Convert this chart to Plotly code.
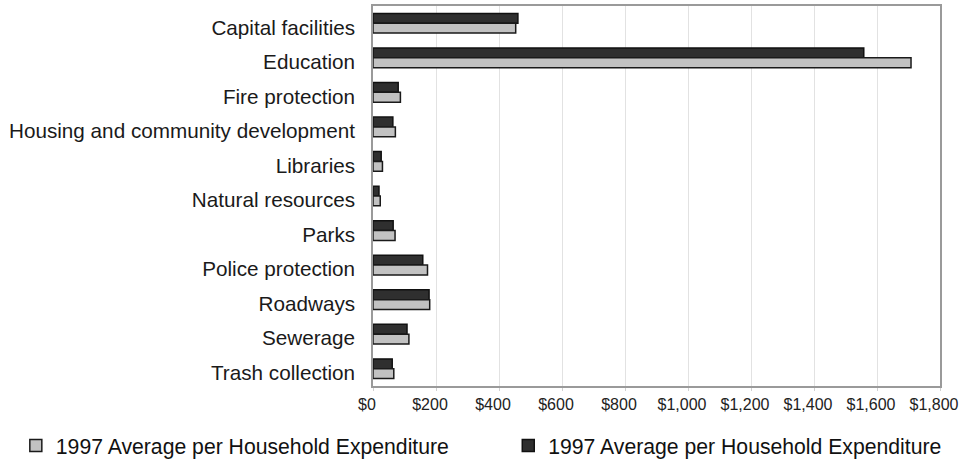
import plotly.graph_objects as go

# Municipal spending categories, listed top to bottom
categories = [
    "Capital facilities",
    "Education",
    "Fire protection",
    "Housing and community development",
    "Libraries",
    "Natural resources",
    "Parks",
    "Police protection",
    "Roadways",
    "Sewerage",
    "Trash collection",
]

# Average per-household expenditure, in dollars
dark_values = [460, 1558, 80, 63, 26, 19, 64, 158, 178, 108, 61]
light_values = [453, 1708, 87, 71, 30, 23, 70, 173, 180, 114, 66]

series_name = "1997 Average per Household Expenditure"

x_tick_values = [0, 200, 400, 600, 800, 1000, 1200, 1400, 1600, 1800]
x_tick_labels = ["$0", "$200", "$400", "$600", "$800", "$1,000",
                 "$1,200", "$1,400", "$1,600", "$1,800"]

FONT = "Liberation Sans, Arial, Helvetica, sans-serif"

fig = go.Figure()

fig.add_trace(go.Bar(
    y=categories,
    x=dark_values,
    orientation="h",
    name=series_name,
    marker=dict(color="#2f2f2f", line=dict(color="#111111", width=1.5)),
    legend="legend2",
))

fig.add_trace(go.Bar(
    y=categories,
    x=light_values,
    orientation="h",
    name=series_name,
    marker=dict(color="#c2c2c2", line=dict(color="#1a1a1a", width=1.5)),
    legend="legend",
))

legend_font = dict(size=21.2, family=FONT, color="#111111")

fig.update_layout(
    width=959,
    height=460,
    margin=dict(l=373, r=19, t=6, b=74, autoexpand=False),
    paper_bgcolor="white",
    plot_bgcolor="white",
    barmode="group",
    bargap=0.43,
    bargroupgap=0,
    font=dict(family=FONT, color="#1a1a1a"),
    showlegend=True,
    legend=dict(
        xref="container", yref="container",
        x=0.0165, y=0.031, xanchor="left", yanchor="middle",
        font=legend_font,
        bgcolor="rgba(0,0,0,0)", borderwidth=0,
    ),
    legend2=dict(
        xref="container", yref="container",
        x=0.530, y=0.031, xanchor="left", yanchor="middle",
        font=legend_font,
        bgcolor="rgba(0,0,0,0)", borderwidth=0,
    ),
)

fig.update_xaxes(
    range=[0, 1800],
    tickvals=x_tick_values,
    ticktext=x_tick_labels,
    tickfont=dict(size=16, family=FONT, color="#222222"),
    ticklabelshift=-6,
    showgrid=True,
    gridcolor="#e2e2e2",
    gridwidth=1,
    showline=True,
    linecolor="#9a9a9a",
    linewidth=1.5,
    mirror=True,
    ticks="outside",
    ticklen=3,
    tickcolor="#d0d0d0",
    zeroline=False,
    automargin=False,
    fixedrange=True,
)

fig.update_yaxes(
    autorange="reversed",
    tickfont=dict(size=20.7, family=FONT, color="#1a1a1a"),
    showline=True,
    linecolor="#9a9a9a",
    linewidth=1.5,
    mirror=True,
    ticks="",
    ticklabelstandoff=12,
    ticklabelshift=-4,
    showgrid=False,
    automargin=False,
    fixedrange=True,
)

fig.write_html("out.html")
